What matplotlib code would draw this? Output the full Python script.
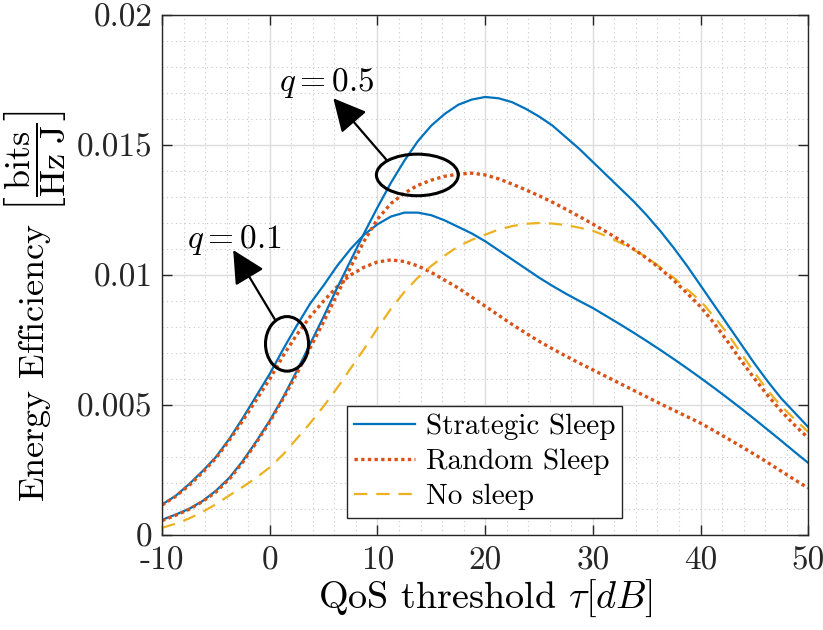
import matplotlib
matplotlib.use('Agg')
import matplotlib.pyplot as plt
from matplotlib.patches import Ellipse
from matplotlib.ticker import MultipleLocator

plt.rcParams['font.family'] = 'cmr10'
plt.rcParams['mathtext.fontset'] = 'cm'
plt.rcParams['axes.unicode_minus'] = False
plt.rcParams['axes.formatter.use_mathtext'] = True

# QoS threshold tau [dB]
tau = [-10, -8.75, -7.5, -6.25, -5, -3.75, -2.5, -1.25, 0, 1.25, 2.5, 3.75, 5,
       6.25, 7.5, 8.75, 10, 11.25, 12.5, 13.75, 15, 16.25, 17.5, 18.75, 20,
       21.25, 22.5, 23.75, 25, 26.25, 27.5, 28.75, 30, 31.25, 32.5, 33.75, 35,
       36.25, 37.5, 38.75, 40, 41.25, 42.5, 43.75, 45, 46.25, 47.5, 48.75, 50]

# energy efficiency [bits/Hz J]
strategic_q01 = [0.00117, 0.00150, 0.00195, 0.00245, 0.00300, 0.00370, 0.00450, 0.00535, 0.00620,
                 0.00715, 0.00805, 0.00890, 0.00960, 0.01035, 0.01100, 0.01155, 0.01195, 0.01225,
                 0.01240, 0.01240, 0.01230, 0.01210, 0.01185, 0.01160, 0.01130, 0.01095, 0.01060,
                 0.01025, 0.00990, 0.00958, 0.00928, 0.00900, 0.00873, 0.00842, 0.00811, 0.00779,
                 0.00746, 0.00712, 0.00677, 0.00641, 0.00604, 0.00566, 0.00527, 0.00487, 0.00446,
                 0.00404, 0.00362, 0.00319, 0.00277]
strategic_q05 = [0.00058, 0.00078, 0.00100, 0.00130, 0.00170, 0.00220, 0.00285, 0.00360, 0.00440,
                 0.00530, 0.00630, 0.00735, 0.00840, 0.00950, 0.01055, 0.01160, 0.01260, 0.01355,
                 0.01440, 0.01515, 0.01575, 0.01620, 0.01655, 0.01675, 0.01685, 0.01680, 0.01665,
                 0.01640, 0.01610, 0.01575, 0.01530, 0.01485, 0.01435, 0.01385, 0.01335, 0.01285,
                 0.01230, 0.01170, 0.01105, 0.01035, 0.00960, 0.00885, 0.00810, 0.00735, 0.00660,
                 0.00590, 0.00525, 0.00470, 0.00415]
random_q01 = [0.00115, 0.00148, 0.00190, 0.00240, 0.00295, 0.00365, 0.00440, 0.00520, 0.00600,
              0.00690, 0.00770, 0.00840, 0.00900, 0.00955, 0.01000, 0.01030, 0.01050, 0.01058,
              0.01052, 0.01035, 0.01010, 0.00980, 0.00950, 0.00915, 0.00880, 0.00845, 0.00810,
              0.00777, 0.00745, 0.00716, 0.00688, 0.00661, 0.00635, 0.00609, 0.00583, 0.00557,
              0.00531, 0.00505, 0.00480, 0.00455, 0.00430, 0.00401, 0.00371, 0.00341, 0.00310,
              0.00278, 0.00245, 0.00212, 0.00180]
random_q05 = [0.00055, 0.00075, 0.00098, 0.00128, 0.00165, 0.00215, 0.00280, 0.00355, 0.00435,
              0.00525, 0.00620, 0.00720, 0.00820, 0.00925, 0.01030, 0.01130, 0.01215, 0.01275,
              0.01315, 0.01345, 0.01365, 0.01380, 0.01388, 0.01392, 0.01385, 0.01370, 0.01350,
              0.01328, 0.01305, 0.01280, 0.01253, 0.01225, 0.01196, 0.01166, 0.01135, 0.01101,
              0.01065, 0.01025, 0.00980, 0.00930, 0.00878, 0.00815, 0.00745, 0.00672, 0.00602,
              0.00536, 0.00476, 0.00422, 0.00373]
no_sleep = [0.00027, 0.00043, 0.00063, 0.00088, 0.00118, 0.00152, 0.00185, 0.00220, 0.00260,
            0.00310, 0.00370, 0.00430, 0.00495, 0.00565, 0.00640, 0.00715, 0.00795, 0.00870,
            0.00935, 0.00990, 0.01035, 0.01075, 0.01110, 0.01135, 0.01155, 0.01175, 0.01188,
            0.01197, 0.01200, 0.01198, 0.01192, 0.01182, 0.01170, 0.01150, 0.01125, 0.01098,
            0.01068, 0.01030, 0.00990, 0.00945, 0.00900, 0.00840, 0.00775, 0.00700, 0.00625,
            0.00555, 0.00495, 0.00445, 0.00396]

x_ticks = [-10, 0, 10, 20, 30, 40, 50]
x_labels = ['-10', '0', '10', '20', '30', '40', '50']
y_ticks = [0, 0.005, 0.01, 0.015, 0.02]
y_labels = ['0', '0.005', '0.01', '0.015', '0.02']

blue = '#0072BD'
orange = '#D95319'
yellow = '#EDB120'

fig = plt.figure(figsize=(8.23, 6.30), dpi=100)
ax = fig.add_axes([0.197, 0.151, 0.785, 0.825])

ax.plot(tau, strategic_q01, color=blue, lw=1.6, label='Strategic Sleep')
ax.plot(tau, random_q01, color=orange, lw=2.4, linestyle=(0, (1, 1)), label='Random Sleep')
ax.plot(tau, no_sleep, color=yellow, lw=1.6, linestyle=(0, (6, 4)), label='No sleep')
ax.plot(tau, strategic_q05, color=blue, lw=1.6)
ax.plot(tau, random_q05, color=orange, lw=2.4, linestyle=(0, (1, 1)))

ax.set_xlim(-10, 50)
ax.set_ylim(0, 0.02)
ax.set_xticks(x_ticks)
ax.set_xticklabels(x_labels)
ax.set_yticks(y_ticks)
ax.set_yticklabels(y_labels)
ax.xaxis.set_minor_locator(MultipleLocator(2))
ax.yaxis.set_minor_locator(MultipleLocator(0.001))
ax.tick_params(which='major', direction='in', length=7, width=1, labelsize=24,
               top=True, right=True, colors='#262626')
ax.tick_params(which='minor', length=0)
ax.tick_params(axis='x', pad=8)
ax.tick_params(axis='y', pad=7)
ax.grid(which='major', color='#dcdcdc', lw=1)
ax.grid(which='minor', color='#c8c8c8', lw=0.8, linestyle=(0, (1, 3)))
ax.set_axisbelow(True)
for s in ax.spines.values():
    s.set_color('#262626')
    s.set_linewidth(1)

ax.set_xlabel(r'QoS threshold $\tau[dB]$', fontsize=27.5, labelpad=2)
ax.set_ylabel(r'Energy Efficiency $\left[\dfrac{\mathrm{bits}}{\mathrm{Hz\ J}}\right]$',
              fontsize=26, labelpad=3)
ax.yaxis.set_label_coords(-0.146, 0.44)

# annotations
ax.add_patch(Ellipse((13.7, 0.01385), 7.6, 0.0016, fill=False, ec='k', lw=2.2, zorder=5))
ax.add_patch(Ellipse((1.6, 0.00735), 4.0, 0.0021, fill=False, ec='k', lw=2.2, zorder=5))
arrow = dict(arrowstyle='-|>,head_length=0.75,head_width=0.38', color='k', lw=1.6,
             mutation_scale=27, shrinkA=0, shrinkB=0)
ax.annotate('', xy=(5.9, 0.0168), xytext=(10.9, 0.0144), arrowprops=arrow, zorder=6)
ax.annotate('', xy=(-3.4, 0.01096), xytext=(0.5, 0.00827), arrowprops=arrow, zorder=6)
ax.text(5.3, 0.0174, r'$q = 0.5$', fontsize=24, ha='center', va='center')
ax.text(-3.3, 0.01135, r'$q = 0.1$', fontsize=24, ha='center', va='center')

leg = ax.legend(loc='lower left', bbox_to_anchor=(0.286, 0.033), fontsize=21,
                frameon=True, fancybox=False, framealpha=1, edgecolor='#262626',
                handlelength=2.1, handletextpad=0.35, borderpad=0.25,
                labelspacing=0.3, borderaxespad=0)
leg.get_frame().set_linewidth(1)

fig.savefig('out.png', dpi=100)
